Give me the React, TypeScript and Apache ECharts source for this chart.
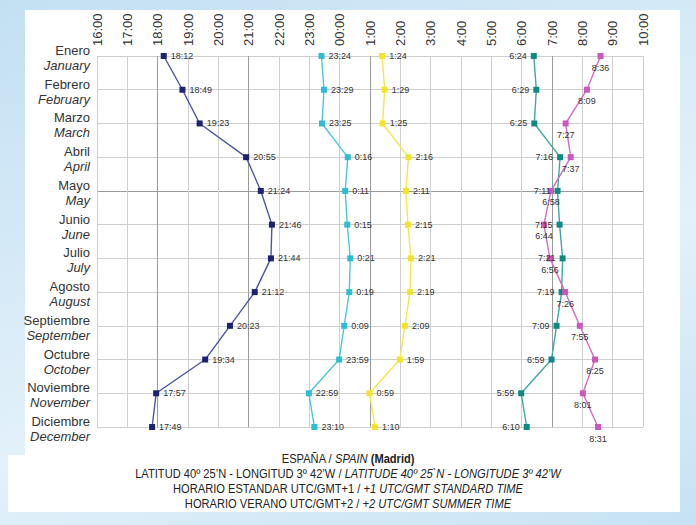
import React, { useEffect, useRef } from "react";
import * as echarts from "echarts";

const monthsEs = ["Enero", "Febrero", "Marzo", "Abril", "Mayo", "Junio", "Julio", "Agosto", "Septiembre", "Octubre", "Noviembre", "Diciembre"];
const monthsEn = ["January", "February", "March", "April", "May", "June", "July", "August", "September", "October", "November", "December"];

const navyTimes = ["18:12", "18:49", "19:23", "20:55", "21:24", "21:46", "21:44", "21:12", "20:23", "19:34", "17:57", "17:49"];
const cyanTimes = ["23:24", "23:29", "23:25", "0:16", "0:11", "0:15", "0:21", "0:19", "0:09", "23:59", "22:59", "23:10"];
const yellowTimes = ["1:24", "1:29", "1:25", "2:16", "2:11", "2:15", "2:21", "2:19", "2:09", "1:59", "0:59", "1:10"];
const tealTimes = ["6:24", "6:29", "6:25", "7:16", "7:11", "7:15", "7:21", "7:19", "7:09", "6:59", "5:59", "6:10"];
const magentaTimes = ["8:36", "8:09", "7:27", "7:37", "6:58", "6:44", "6:56", "7:26", "7:55", "8:25", "8:01", "8:31"];

const xMin = 16;
const xMax = 34;

const footerLines = [
  "{n|ESPAÑA / }{i|SPAIN}{b| (Madrid)}",
  "{n|LATITUD 40º 25’N - LONGITUD 3º 42’W / }{i|LATITUDE 40º 25`N - LONGITUDE 3º 42’W}",
  "{n|HORARIO ESTANDAR UTC/GMT+1 / }{i|+1 UTC/GMT STANDARD TIME}",
  "{n|HORARIO VERANO UTC/GMT+2 / }{i|+2 UTC/GMT SUMMER TIME}",
];

function toX(t: string): number {
  const [h, m] = t.split(":").map(Number);
  let v = h + m / 60;
  if (v < xMin) v += 24;
  return v;
}

function makeSeries(name: string, times: string[], lineColor: string, markColor: string, labelPos: string, size: number) {
  return {
    name,
    type: "line",
    data: times.map((t, i) => [toX(t), i]),
    symbol: "rect",
    symbolSize: size,
    itemStyle: { color: markColor },
    lineStyle: { color: lineColor, width: 1.4 },
    label: {
      show: true,
      position: labelPos,
      distance: 4,
      fontSize: 9,
      fontFamily: "Liberation Sans",
      color: "#333",
      formatter: (p: any) => times[p.dataIndex],
    },
  };
}

const FF = "Liberation Sans";

export default function App() {
  const ref = useRef<HTMLDivElement>(null);
  useEffect(() => {
    if (!ref.current) return;
    const chart = echarts.init(ref.current, null, { renderer: "svg" });
    const xColors: string[] = [];
    for (let v = xMin; v <= xMax; v++) {
      xColors.push(v === 18 || v === 21 || v === 25 || v === 31 ? "#9a9a9a" : "#cfcfcf");
    }
    const yColors = monthsEs.map((_, i) => (i === 4 ? "#9a9a9a" : "#cfcfcf"));
    const rich = {
      n: { fontFamily: FF, fontSize: 12.5, fill: "#222" },
      i: { fontFamily: FF, fontSize: 12.5, fontStyle: "italic", fill: "#222" },
      b: { fontFamily: FF, fontSize: 12.5, fontWeight: "bold", fill: "#222" },
    };
    chart.setOption({
      animation: false,
      backgroundColor: "transparent",
      graphic: [
        { type: "rect", z: -10, shape: { x: 25, y: 10, width: 655, height: 502 }, style: { fill: "#ffffff" } },
        { type: "rect", z: -10, shape: { x: 8, y: 455, width: 672, height: 57 }, style: { fill: "#ffffff" } },
        {
          type: "group",
          x: 348,
          y: 459,
          scaleX: 0.89,
          children: footerLines.map((line, k) => ({
            type: "text",
            x: 0,
            y: k * 15,
            style: {
              text: line,
              align: "center",
              verticalAlign: "middle",
              fontFamily: FF,
              fontSize: 12.5,
              fill: "#222",
              rich,
            },
          })),
        },
      ],
      grid: { left: 97, right: 53, top: 56, bottom: 98, containLabel: false },
      xAxis: {
        type: "value",
        position: "top",
        min: xMin,
        max: xMax,
        interval: 1,
        axisLine: { show: false },
        axisTick: { show: false },
        axisLabel: {
          rotate: -90,
          margin: 10,
          fontSize: 13,
          fontFamily: FF,
          color: "#333",
          formatter: (v: number) => {
            const h = v % 24;
            return h === 0 ? "00:00" : `${h}:00`;
          },
        },
        splitLine: { show: true, lineStyle: { color: xColors, width: 1 } },
      },
      yAxis: {
        type: "category",
        inverse: true,
        boundaryGap: false,
        data: monthsEs,
        axisLine: { show: false },
        axisTick: { show: false },
        axisLabel: {
          margin: 7,
          interval: 0,
          formatter: (v: string, i: number) => `{es|${v}}\n{en|${monthsEn[i]}}`,
          rich: {
            es: { fontSize: 13, fontFamily: FF, color: "#333", lineHeight: 15, align: "right" },
            en: { fontSize: 13, fontFamily: FF, color: "#333", lineHeight: 15, fontStyle: "italic", align: "right" },
          },
          padding: [4, 0, 0, 0],
        },
        splitLine: { show: true, lineStyle: { color: yColors, width: 1 } },
      },
      series: [
        makeSeries("navy", navyTimes, "#4b55a3", "#1b2270", "right", 6),
        makeSeries("cyan", cyanTimes, "#4cc6da", "#2dbcd3", "right", 6),
        makeSeries("yellow", yellowTimes, "#f2e84a", "#f3e42a", "right", 6),
        makeSeries("teal", tealTimes, "#3fa8a0", "#0f8a82", "left", 6),
        makeSeries("magenta", magentaTimes, "#d06cc4", "#cc57bd", "bottom", 6),
      ],
    });
    return () => chart.dispose();
  }, []);
  return (
    <div
      style={{
        position: "fixed",
        left: 0,
        top: 0,
        width: 696,
        height: 525,
        background: "linear-gradient(160deg, #c3e0f3 0%, #e3f1fa 60%, #c6e2f4 100%)",
      }}
    >
      <div ref={ref} style={{ width: 696, height: 525 }} />
    </div>
  );
}
